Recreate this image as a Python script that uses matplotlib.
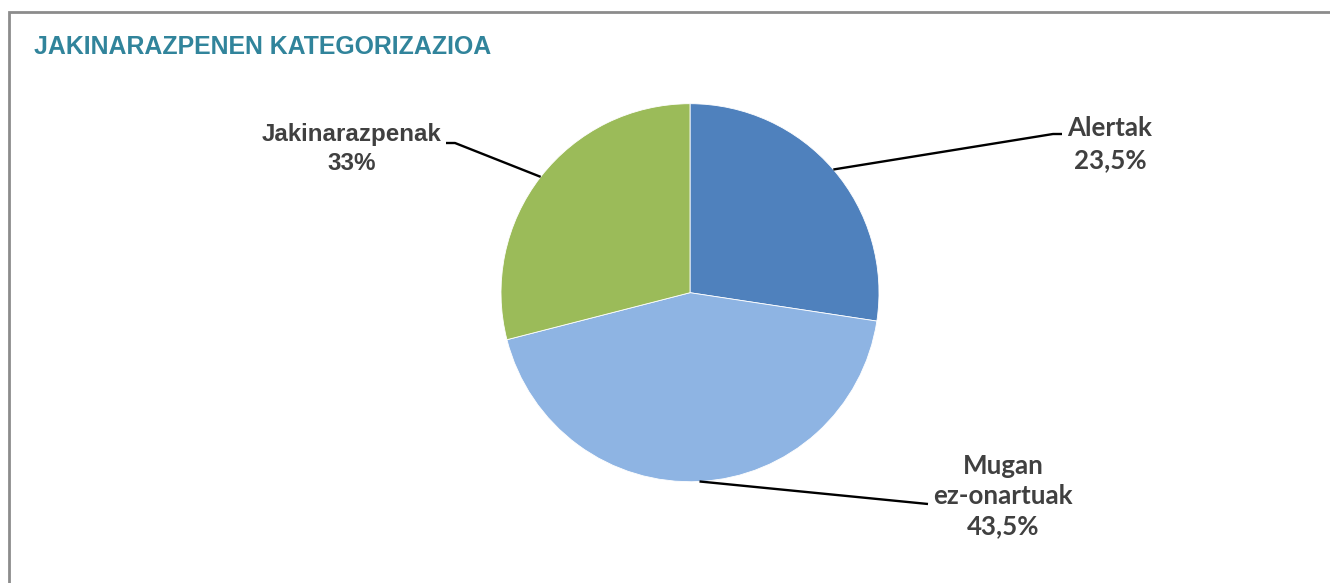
import numpy as np
import matplotlib.pyplot as plt
from matplotlib.patches import Rectangle

# Datuak (zatien tamaina irudiko geometriatik neurtua, etiketak jatorrizko testutik)
categories = ['Alertak', 'Mugan\nez-onartuak', 'Jakinarazpenak']
slice_values = [27.4, 43.6, 29.0]
label_texts = ['23,5%', '43,5%', '33%']
colors = ['#4F81BD', '#8EB4E3', '#9BBB59']

W, H = 1330, 583
fig = plt.figure(figsize=(W / 100, H / 100), dpi=100)
fig.patch.set_facecolor('white')


def fx(px):
    return px / W


def fy(py):
    return 1 - py / H


# Kanpoko markoa (goian eta ezkerrean bakarrik ikusten da)
fig.patches.append(Rectangle((fx(9), fy(H + 20)), fx(W + 40), (H + 8) / H,
                             transform=fig.transFigure, fill=False,
                             edgecolor='#8C8C8C', linewidth=2))

fig.text(fx(34), fy(47), 'JAKINARAZPENEN KATEGORIZAZIOA', color='#31849B',
         fontsize=17.9, fontweight='bold', family='Liberation Sans',
         ha='left', va='center')

# Tarta
cx, cy, r = 690, 292.7, 189
ax = fig.add_axes([fx(cx - r), fy(cy + r), 2 * r / W, 2 * r / H])
wedges, _ = ax.pie(slice_values, colors=colors, startangle=90, counterclock=False,
                   radius=1, wedgeprops=dict(edgecolor='white', linewidth=0.6))
ax.set_xlim(-1, 1)
ax.set_ylim(-1, 1)
ax.set_aspect('auto')
ax.axis('off')

# Etiketak eta gida-lerroak
label_pos = [(1110, 144), (1003, 496), (352, 149)]
elbows = [(1053, 134), (928, 504), (455, 143)]
stubs = [(1062, 134), (928, 504), (446, 143)]
fonts = ['Lato', 'Lato', 'Liberation Sans']
sizes = [18.6, 18.6, 17.4]
spacing = [1.37, 1.3, 1.28]

overlay = fig.add_axes([0, 0, 1, 1])
overlay.set_xlim(0, W)
overlay.set_ylim(H, 0)
overlay.axis('off')

for w, cat, txt, lp, el, st, fam, fs, ls in zip(wedges, categories, label_texts, label_pos,
                                                 elbows, stubs, fonts, sizes, spacing):
    mid = np.deg2rad((w.theta1 + w.theta2) / 2)
    sx = cx + r * np.cos(mid)
    sy = cy - r * np.sin(mid)
    overlay.plot([sx, el[0], st[0]], [sy, el[1], st[1]], color='black', lw=1.7,
                 solid_capstyle='butt')
    overlay.text(lp[0], lp[1], cat + '\n' + txt, color='#404040', fontsize=fs,
                 fontweight='bold', family=fam, ha='center', va='center',
                 linespacing=ls)

fig.savefig('out.png', dpi=100, facecolor='white')
